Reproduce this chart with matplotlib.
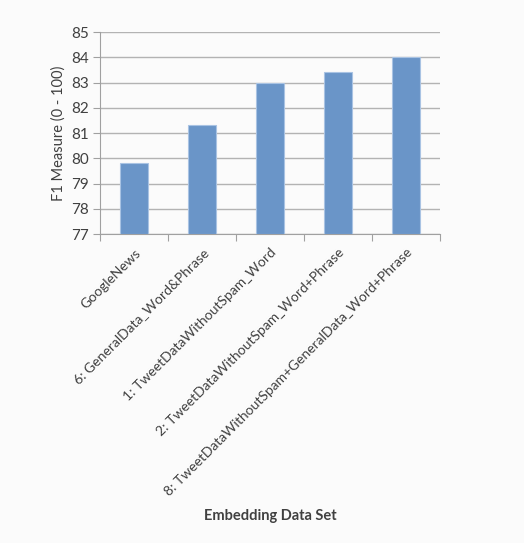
import matplotlib.pyplot as plt
import numpy as np

plt.rcParams['font.family'] = ['Lato', 'DejaVu Sans']

categories = ['GoogleNews', '6: GeneralData_Word&Phrase', '1: TweetDataWithoutSpam_Word',
              '2: TweetDataWithoutSpam_Word+Phrase',
              '8: TweetDataWithoutSpam+GeneralData_Word+Phrase']
f1_scores = [79.8, 81.3, 83.0, 83.4, 84.0]
y_ticks = [77, 78, 79, 80, 81, 82, 83, 84, 85]

fig = plt.figure(figsize=(5.24, 5.43), dpi=100, facecolor='#fbfbfb')
ax = fig.add_axes([0.191, 0.569, 0.649, 0.372])
ax.set_facecolor('#fbfbfb')

x = np.arange(len(categories))
ax.bar(x, np.array(f1_scores) - 77, bottom=77, width=0.42, color='#6a95c8',
       edgecolor='#a9c3e3', linewidth=0.8, zorder=3)

ax.set_ylim(77, 85)
ax.set_xlim(-0.5, len(categories) - 0.5)
ax.set_yticks(y_ticks)
ax.set_yticklabels([str(t) for t in y_ticks], fontsize=11, color='#404040')
ax.yaxis.grid(True, color='#b3b3b3', linewidth=1, zorder=0)

# boundary ticks on the category axis, labels sit at the bar centres
ax.set_xticks(np.arange(-0.5, len(categories)), minor=False)
ax.set_xticklabels([])
ax.set_xticks(x, minor=True)
ax.set_xticklabels(categories, minor=True, rotation=45, ha='right', rotation_mode='anchor',
                   fontsize=10, color='#404040')
ax.tick_params(axis='x', which='minor', length=0, pad=9)
ax.tick_params(axis='x', which='major', length=5, color='#a0a0a0', direction='out')
ax.tick_params(axis='y', length=5, color='#a0a0a0', pad=3)

for side in ['top', 'right']:
    ax.spines[side].set_visible(False)
ax.spines['left'].set_color('#a0a0a0')
ax.spines['bottom'].set_color('#a0a0a0')

ax.set_ylabel('F1 Measure (0 - 100)', fontsize=10.5, color='#404040', labelpad=4)
fig.text(0.515, 0.05, 'Embedding Data Set', ha='center', va='center',
         fontsize=10.5, fontweight='bold', color='#404040')

fig.savefig('out.png', dpi=100, facecolor=fig.get_facecolor())
